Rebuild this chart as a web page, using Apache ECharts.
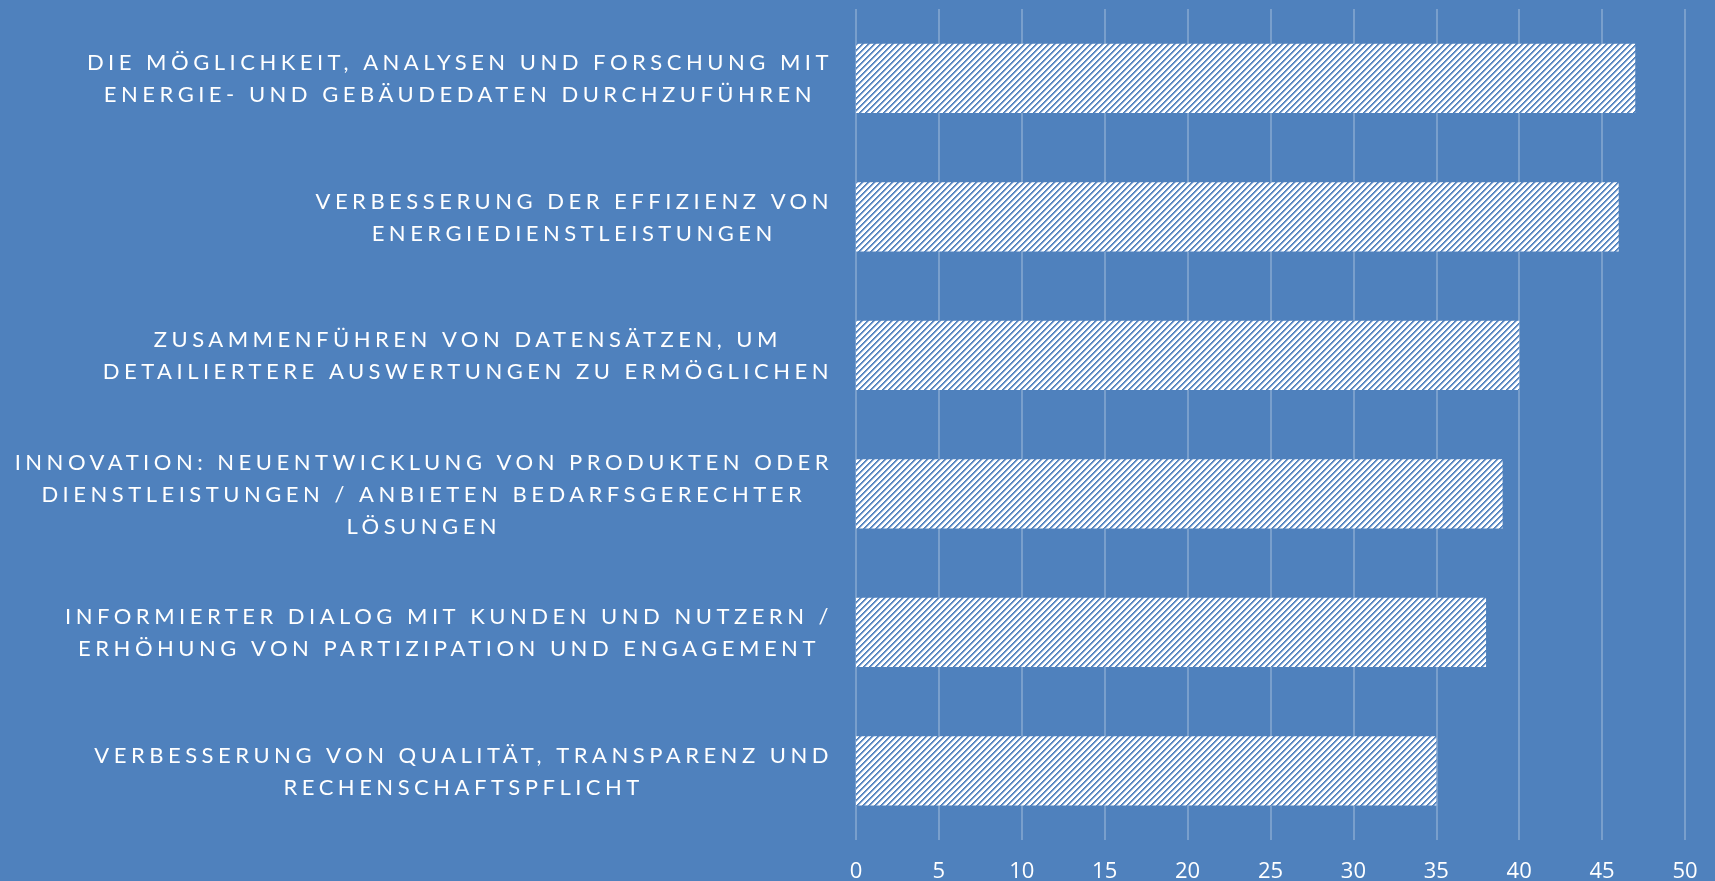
<!DOCTYPE html>
<html>
<head>
<meta charset="utf-8">
<script src="https://cdn.jsdelivr.net/npm/echarts@6/dist/echarts.min.js"></script>
<style>
  html, body { margin: 0; padding: 0; background: #4f81bd; }
  #main { width: 1715px; height: 881px; }
</style>
</head>
<body>
<div id="main"></div>
<script>
// category labels (top to bottom)
var categories = [
  'DIE MÖGLICHKEIT, ANALYSEN UND FORSCHUNG MIT\nENERGIE- UND GEBÄUDEDATEN DURCHZUFÜHREN',
  'VERBESSERUNG DER EFFIZIENZ VON\nENERGIEDIENSTLEISTUNGEN',
  'ZUSAMMENFÜHREN VON DATENSÄTZEN, UM\nDETAILIERTERE AUSWERTUNGEN ZU ERMÖGLICHEN',
  'INNOVATION: NEUENTWICKLUNG VON PRODUKTEN ODER\nDIENSTLEISTUNGEN / ANBIETEN BEDARFSGERECHTER\nLÖSUNGEN',
  'INFORMIERTER DIALOG MIT KUNDEN UND NUTZERN /\nERHÖHUNG VON PARTIZIPATION UND ENGAGEMENT',
  'VERBESSERUNG VON QUALITÄT, TRANSPARENZ UND\nRECHENSCHAFTSPFLICHT'
];
var values = [47, 46, 40, 39, 38, 35];
var axisMin = 0;
var axisMax = 50;
var axisStep = 5;

// spaced-out capitals like the original office chart (only for the category font)
var proto = CanvasRenderingContext2D.prototype;
['fillText', 'measureText'].forEach(function (fn) {
  var orig = proto[fn];
  proto[fn] = function () {
    this.letterSpacing = this.font.indexOf('Lato') >= 0 ? '4.5px' : '0px';
    return orig.apply(this, arguments);
  };
});

// hatched fill: blue upward diagonal on white
function hatch() {
  var c = document.createElement('canvas');
  c.width = 6;
  c.height = 6;
  var ctx = c.getContext('2d');
  ctx.fillStyle = '#ffffff';
  ctx.fillRect(0, 0, 6, 6);
  for (var i = 0; i < 6; i++) {
    ctx.fillStyle = '#4f81bd';
    ctx.fillRect(i, 5 - i, 1, 1);
    ctx.fillStyle = '#6690c6';
    ctx.fillRect((i + 1) % 6, 5 - i, 1, 1);
    ctx.fillStyle = '#b5cae7';
    ctx.fillRect((i + 2) % 6, 5 - i, 1, 1);
  }
  return c;
}

var chart = echarts.init(document.getElementById('main'));
var option = {
  backgroundColor: '#4f81bd',
  animation: false,
  grid: {
    left: 856,
    right: 30,
    top: 9,
    bottom: 41,
    outerBoundsMode: 'none'
  },
  xAxis: {
    type: 'value',
    min: axisMin,
    max: axisMax,
    interval: axisStep,
    axisLine: { show: false },
    axisTick: { show: false },
    splitLine: {
      lineStyle: { color: 'rgba(255,255,255,0.32)', width: 1.5 }
    },
    axisLabel: {
      color: '#ffffff',
      fontFamily: 'Open Sans',
      fontSize: 22,
      margin: 21
    }
  },
  yAxis: {
    type: 'category',
    inverse: true,
    data: categories,
    axisLine: { show: false },
    axisTick: { show: false },
    axisLabel: {
      margin: 23,
      formatter: function (v) {
        return v.split('\n').map(function (s) { return '{c|' + s + '}'; }).join('\n');
      },
      rich: {
        c: {
          color: '#ffffff',
          fontFamily: 'Lato',
          fontSize: 22,
          lineHeight: 32,
          padding: [2, 0, 0, 0],
          align: 'center'
        }
      }
    }
  },
  series: [{
    type: 'bar',
    barWidth: '50%',
    data: values,
    itemStyle: {
      color: { image: hatch(), repeat: 'repeat' }
    }
  }]
};
chart.setOption(option);
</script>
</body>
</html>
